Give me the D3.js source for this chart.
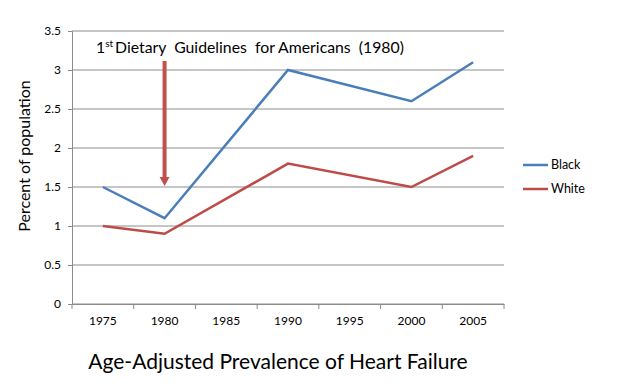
<!DOCTYPE html>
<html>
<head>
<meta charset="utf-8">
<script src="https://cdn.jsdelivr.net/npm/d3@7"></script>
<style>
body { margin: 0; background: #fff; }
text { font-family: Lato, "Open Sans", sans-serif; }
</style>
</head>
<body>
<div id="chart"></div>
<script>
var years = ["1975", "1980", "1985", "1990", "1995", "2000", "2005"];
var black = [1.5, 1.1, null, 3.0, null, 2.6, 3.1];
var white = [1.0, 0.9, null, 1.8, null, 1.5, 1.9];
var yTicks = [0, 0.5, 1, 1.5, 2, 2.5, 3, 3.5];
var seriesNames = ["Black", "White"];
var colors = ["#4a7ebb", "#be4b48"];

var svg = d3.select("#chart").append("svg").attr("width", 621).attr("height", 388);

var x = d3.scaleBand().domain(years).range([72, 504]);
var y = d3.scaleLinear().domain([0, 3.5]).range([304, 31]);

// gridlines
svg.selectAll("line.grid").data(yTicks).enter().append("line")
	.attr("class", "grid")
	.attr("x1", 72).attr("x2", 504)
	.attr("y1", function (d) { return y(d); })
	.attr("y2", function (d) { return y(d); })
	.attr("stroke", "#8c8c8c").attr("stroke-width", 1);

// y axis
var yAxis = svg.append("g").attr("transform", "translate(72,0)")
	.call(d3.axisLeft(y).tickValues(yTicks).tickSize(4).tickFormat(function (d) { return d; }));
yAxis.select(".domain").attr("stroke", "#8c8c8c");
yAxis.selectAll(".tick line").attr("stroke", "#8c8c8c");
yAxis.selectAll("text").attr("font-size", 12).attr("fill", "#000").attr("dx", -4);

// x axis, ticks between categories
var xAxis = svg.append("g").attr("transform", "translate(0,304)")
	.call(d3.axisBottom(x).tickSize(0).tickSizeOuter(0));
xAxis.select(".domain").attr("stroke", "#8c8c8c");
xAxis.selectAll("text").attr("font-size", 12).attr("fill", "#000").attr("dy", 18);
var bounds = years.map(function (d) { return x(d); }).concat([x.range()[1]]);
svg.selectAll("line.xtick").data(bounds).enter().append("line")
	.attr("class", "xtick")
	.attr("x1", function (d) { return d; }).attr("x2", function (d) { return d; })
	.attr("y1", 304).attr("y2", 309)
	.attr("stroke", "#8c8c8c");

// series lines (gaps bridged)
var line = d3.line()
	.x(function (d) { return x(d.year) + x.bandwidth() / 2; })
	.y(function (d) { return y(d.value); });
[black, white].forEach(function (vals, i) {
	var pts = years.map(function (yr, j) { return {year: yr, value: vals[j]}; })
		.filter(function (d) { return d.value != null; });
	svg.append("path").datum(pts)
		.attr("d", line)
		.attr("fill", "none")
		.attr("stroke", colors[i])
		.attr("stroke-width", 2.5);
});

// arrow annotation
var ax = x("1980") + x.bandwidth() / 2;
svg.append("line")
	.attr("x1", ax).attr("x2", ax)
	.attr("y1", 61).attr("y2", 178)
	.attr("stroke", "#c0504d").attr("stroke-width", 4);
svg.append("path")
	.attr("d", "M" + (ax - 5) + ",177 L" + (ax + 5) + ",177 L" + ax + ",186 Z")
	.attr("fill", "#c0504d");

var ann = svg.append("text").attr("x", 96).attr("y", 53).attr("font-size", 15.8)
	.attr("fill", "#000").style("white-space", "pre");
ann.append("tspan").text("1");
ann.append("tspan").attr("font-size", 10).attr("dy", -6).text("st");
ann.append("tspan").attr("dy", 6).attr("dx", 2).text("Dietary  Guidelines  for Americans  (1980)");

// y label
svg.append("text")
	.attr("transform", "translate(30,156) rotate(-90)")
	.attr("text-anchor", "middle")
	.attr("font-size", 16)
	.text("Percent of population");

// title
svg.append("text")
	.attr("x", 278).attr("y", 369)
	.attr("text-anchor", "middle")
	.attr("font-size", 21)
	.text("Age-Adjusted Prevalence of Heart Failure");

// legend
seriesNames.forEach(function (name, i) {
	var ly = 165 + i * 24;
	svg.append("line")
		.attr("x1", 523).attr("x2", 548)
		.attr("y1", ly).attr("y2", ly)
		.attr("stroke", colors[i]).attr("stroke-width", 2.5);
	svg.append("text")
		.attr("x", 551).attr("y", ly + 4)
		.attr("font-size", 12.5)
		.text(name);
});
</script>
</body>
</html>
